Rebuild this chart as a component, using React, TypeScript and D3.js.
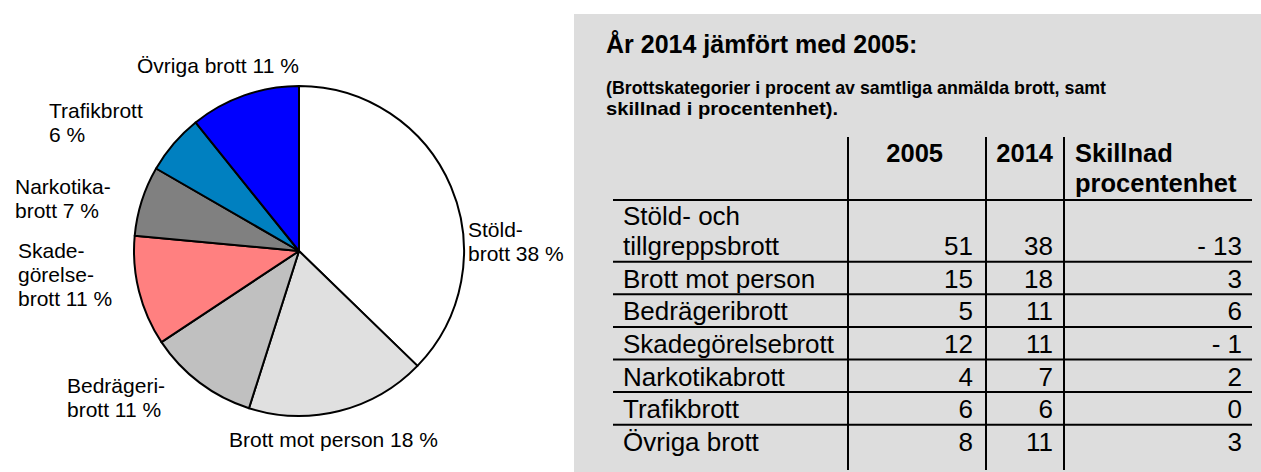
import React from "react";
import { pie, arc, scaleOrdinal, sum } from "d3";

// pie: share of reported crimes 2014
const categories = [
  "Stöld- och tillgreppsbrott",
  "Brott mot person",
  "Bedrägeribrott",
  "Skadegörelsebrott",
  "Narkotikabrott",
  "Trafikbrott",
  "Övriga brott",
];
const share2014 = [38, 18, 11, 11, 7, 6, 11];
const sliceColors = ["#ffffff", "#e0e0e0", "#c0c0c0", "#ff8080", "#808080", "#0080c0", "#0000ff"];

// pie labels, one entry per slice (lines as printed)
const pieLabels = [
  ["Stöld-", "brott 38 %"],
  ["Brott mot person 18 %"],
  ["Bedrägeri-", "brott 11 %"],
  ["Skade-", "görelse-", "brott 11 %"],
  ["Narkotika-", "brott 7 %"],
  ["Trafikbrott", "6 %"],
  ["Övriga brott 11 %"],
];

// table
const tableLabels = [
  ["Stöld- och", "tillgreppsbrott"],
  ["Brott mot person"],
  ["Bedrägeribrott"],
  ["Skadegörelsebrott"],
  ["Narkotikabrott"],
  ["Trafikbrott"],
  ["Övriga brott"],
];
const values2005 = [51, 15, 5, 12, 4, 6, 8];
const values2014 = [38, 18, 11, 11, 7, 6, 11];
const diffs = [-13, 3, 6, -1, 2, 0, 3];

const FONT = "'Liberation Sans', Arial, Helvetica, sans-serif";

// label placement (left x, first baseline y)
const labelPos = [
  [468, 237],
  [229, 447],
  [67, 393],
  [18, 258],
  [15, 194],
  [49, 118],
  [137, 73],
];

const fmtDiff = (d: number) => (d < 0 ? `- ${Math.abs(d)}` : `${d}`);

const App = () => {
  const W = 1261;
  const H = 472;
  const cx = 299;
  const cy = 251;
  const r = 165;

  const color = scaleOrdinal<string, string>().domain(categories).range(sliceColors);
  const slices = pie<number>().sort(null).value((d) => d)(share2014);
  const arcGen = arc<any>().innerRadius(0).outerRadius(r);

  // table layout
  const boxX = 574;
  const boxY = 14;
  const tLeft = 613;
  const tRight = 1252;
  const colLines = [848, 986, 1064];
  const vTop = 137;
  const vBottom = 470;
  const headBottom = 200;
  const rowH = 32.6;
  const extraLine = 29.1;
  const rowHeights = tableLabels.map((l) => rowH + (l.length - 1) * extraLine);
  const rowBottoms = rowHeights.map((_, i) => headBottom + sum(rowHeights.slice(0, i + 1)));

  return (
    <div style={{ position: "absolute", left: 0, top: 0 }}>
      <svg width={W} height={H} style={{ display: "block", background: "#fff" }} fontFamily={FONT}>
        {/* pie */}
        <g transform={`translate(${cx},${cy})`}>
          {slices.map((s, i) => (
            <path
              key={i}
              d={arcGen(s) || ""}
              fill={color(categories[i])}
              stroke="#000"
              strokeWidth={2}
              strokeLinejoin="round"
            />
          ))}
        </g>
        {pieLabels.map((lines, i) => (
          <text key={i} x={labelPos[i][0]} y={labelPos[i][1]} fontSize={21} fill="#000">
            {lines.map((t, j) => (
              <tspan key={j} x={labelPos[i][0]} dy={j === 0 ? 0 : 24}>
                {t}
              </tspan>
            ))}
          </text>
        ))}

        {/* table panel */}
        <rect x={boxX} y={boxY} width={W - boxX} height={H - boxY} fill="#dddddd" />
        <text x={606} y={53} fontSize={25} fontWeight="bold" fill="#000">
          År 2014 jämfört med 2005:
        </text>
        <g fontSize={18.5} fontWeight="bold" fill="#000">
          <text x={606} y={94} textLength={500} lengthAdjust="spacingAndGlyphs">
            (Brottskategorier i procent av samtliga anmälda brott, samt
          </text>
          <text x={606} y={115} textLength={232} lengthAdjust="spacingAndGlyphs">
            skillnad i procentenhet).
          </text>
        </g>

        {/* header */}
        <g fontSize={25.5} fontWeight="bold" fill="#000">
          <text x={943} y={162} textAnchor="end">2005</text>
          <text x={1053} y={162} textAnchor="end">2014</text>
          <text x={1075} y={162}>Skillnad</text>
          <text x={1075} y={192}>procentenhet</text>
        </g>

        {/* grid */}
        <g stroke="#000" strokeWidth={2}>
          <line x1={tLeft} x2={tRight} y1={headBottom} y2={headBottom} />
          {rowBottoms.slice(0, -1).map((y, i) => (
            <line key={i} x1={tLeft} x2={tRight} y1={y} y2={y} />
          ))}
          {colLines.map((x, i) => (
            <line key={i} x1={x} x2={x} y1={vTop} y2={vBottom} />
          ))}
        </g>

        {/* rows */}
        <g fontSize={26} fill="#000">
          {tableLabels.map((lines, i) => {
            const base = rowBottoms[i] - 6.5;
            return (
              <g key={i}>
                {lines.map((t, j) => (
                  <text key={j} x={623} y={base - (lines.length - 1 - j) * 30}>
                    {t}
                  </text>
                ))}
                <text x={973} y={base} textAnchor="end">{values2005[i]}</text>
                <text x={1053} y={base} textAnchor="end">{values2014[i]}</text>
                <text x={1242} y={base} textAnchor="end">{fmtDiff(diffs[i])}</text>
              </g>
            );
          })}
        </g>
      </svg>
    </div>
  );
};

export default App;
